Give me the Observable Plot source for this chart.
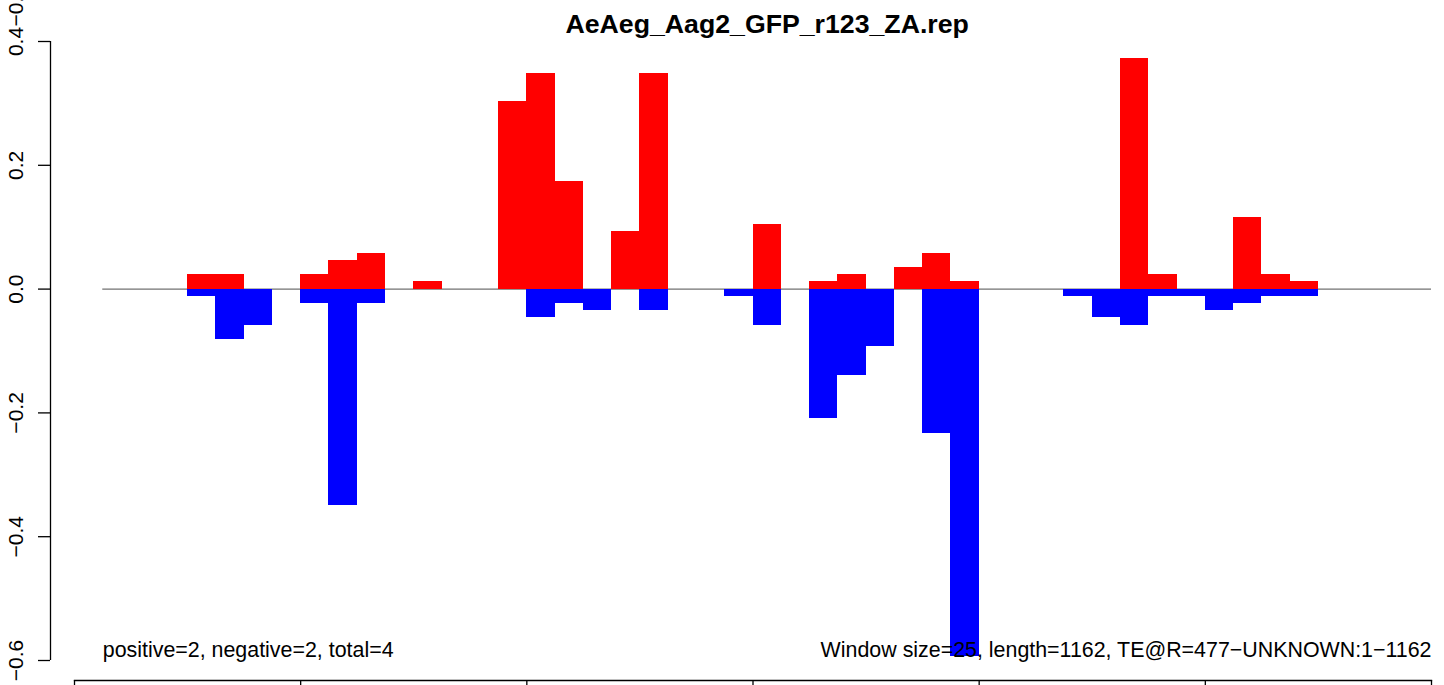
<!DOCTYPE html>
<html>
<head>
<meta charset="utf-8">
<script src="https://cdn.jsdelivr.net/npm/d3@7"></script>
<script src="https://cdn.jsdelivr.net/npm/@observablehq/plot@0.6"></script>
<style>
  html, body { margin: 0; padding: 0; background: #fff; }
  #chart svg { display: block; }
</style>
</head>
<body>
<div id="chart"></div>
<script>
// ---- data ----
const title = "AeAeg_Aag2_GFP_r123_ZA.rep";
const windowSize = 25;
const seqLength = 1162;
const leftNote = "positive=2, negative=2, total=4";
const rightNote = "Window size=25, length=1162, TE@R=477\u2212UNKNOWN:1\u22121162";
const strayLabel = "\u22120.6";
const xTicks = [0, 200, 400, 600, 800, 1000, 1200];
const yTicks = [-0.6, -0.4, -0.2, 0.0, 0.2, 0.4];
// window index 0..46 (window start = index * windowSize)
const positiveValues = [
  0, 0, 0, 0, 0.0233, 0.0233, 0, 0, 0.0233, 0.0465,
  0.0581, 0, 0.0116, 0, 0, 0.3023, 0.3488, 0.1744, 0, 0.0930,
  0.3488, 0, 0, 0, 0.1047, 0, 0.0116, 0.0233, 0, 0.0349,
  0.0581, 0.0116, 0, 0, 0, 0, 0, 0.3721, 0.0233, 0,
  0, 0.1163, 0.0233, 0.0116, 0, 0, 0
];
const negativeValues = [
  0, 0, 0, 0, -0.0116, -0.0814, -0.0581, 0, -0.0233, -0.3488,
  -0.0233, 0, 0, 0, 0, 0, -0.0465, -0.0233, -0.0349, 0,
  -0.0349, 0, 0, -0.0116, -0.0581, 0, -0.2093, -0.1395, -0.0930, 0,
  -0.2326, -0.5930, 0, 0, 0, -0.0116, -0.0465, -0.0581, -0.0116, -0.0116,
  -0.0349, -0.0233, -0.0116, -0.0116, 0, 0, 0
];

// ---- table built from the arrays ----
const bars = [];
positiveValues.forEach((v, i) => { if (v !== 0) bars.push({start: i * windowSize, end: (i + 1) * windowSize, value: v, sign: "pos"}); });
negativeValues.forEach((v, i) => { if (v !== 0) bars.push({start: i * windowSize, end: (i + 1) * windowSize, value: v, sign: "neg"}); });
const negBars = bars.filter(d => d.sign === "neg");
const posBars = bars.filter(d => d.sign === "pos");

const font = "'Liberation Sans', Arial, Helvetica, sans-serif";
const xMin = d3.min(xTicks), xMax = d3.max(xTicks);
const yMin = d3.min(yTicks), yMax = d3.max(yTicks);
const axisShift = -24;

const chart = Plot.plot({
  width: 1444,
  height: 685,
  marginLeft: 74,
  marginRight: 13,
  marginTop: 41,
  marginBottom: 5,
  style: {fontFamily: font, fontSize: "21px", background: "#fff", color: "#000"},
  x: {domain: [xMin, xMax]},
  y: {domain: [yMin, yMax], range: [660, 41]},
  marks: [
    // zero line (beneath bars)
    Plot.ruleY([0], {x1: windowSize, x2: xMax, stroke: "#4d4d4d", strokeWidth: 1}),
    Plot.rectY(negBars, {x1: "start", x2: "end", y: "value", fill: "#0000ff", shapeRendering: "crispEdges"}),
    Plot.rectY(posBars, {x1: "start", x2: "end", y: "value", fill: "#ff0000", shapeRendering: "crispEdges"}),
    // x axis (line + ticks; labels fall below the picture)
    Plot.frame({anchor: "bottom", stroke: "#000", strokeWidth: 1.3}),
    Plot.axisX({ticks: xTicks, tickSize: 10, fontSize: 21, stroke: "#000", strokeWidth: 1.3}),
    // y axis
    Plot.ruleX([{x: xMin, y1: yMin, y2: yMax}], {x: "x", y1: "y1", y2: "y2", dx: axisShift, stroke: "#000", strokeWidth: 1.3}),
    Plot.axisY({ticks: yTicks, tickSize: 12, tickPadding: 16, tickRotate: -90, dx: axisShift,
      tickFormat: d3.format(".1f"), fontSize: 21, stroke: "#000", strokeWidth: 1.3}),
    Plot.text([strayLabel], {text: d => d, frameAnchor: "top-left", rotate: -90, textAnchor: "start",
      lineAnchor: "bottom", dx: -52, dy: -15, fontSize: 21, fill: "#000"}),
    // title
    Plot.text([title], {x: (windowSize + xMax) / 2, text: d => d, frameAnchor: "top", lineAnchor: "bottom",
      dy: -9, fontSize: 26.7, fontWeight: "bold", fill: "#000"}),
    // notes
    Plot.text([leftNote], {x: windowSize, text: d => d, frameAnchor: "bottom", textAnchor: "start",
      lineAnchor: "bottom", dy: -24, fontSize: 21.4, fill: "#000"}),
    Plot.text([rightNote], {x: xMax, text: d => d, frameAnchor: "bottom", textAnchor: "end",
      lineAnchor: "bottom", dy: -24, fontSize: 21.4, fill: "#000"})
  ]
});
document.getElementById("chart").appendChild(chart);
</script>
</body>
</html>
